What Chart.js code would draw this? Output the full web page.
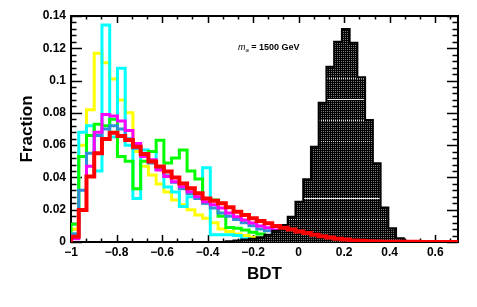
<!DOCTYPE html>
<html>
<head>
<meta charset="utf-8">
<script src="https://cdn.jsdelivr.net/npm/chart.js@4.4.1/dist/chart.umd.min.js"></script>
<style>
  html, body { margin: 0; padding: 0; background: #fff; }
</style>
</head>
<body>
<canvas id="c" width="477" height="307"></canvas>
<script>
// binning of all histograms
const binLow = -1;
const binHigh = 0.7;

const xTicks = [-1, -0.8, -0.6, -0.4, -0.2, 0, 0.2, 0.4, 0.6];
const yTicks = [0, 0.02, 0.04, 0.06, 0.08, 0.1, 0.12, 0.14];

// bin contents (50 bins each)
const yellowVals = [0.008, 0.060, 0.082, 0.117, 0.111, 0.101, 0.088, 0.080, 0.056, 0.047,
  0.0415, 0.036, 0.031, 0.026, 0.023, 0.020, 0.0167, 0.0147, 0.012, 0.008,
  0.0065, 0.005, 0.004, 0.003, 0.002, 0.0015, 0.001, 0.0007, 0.0005, 0.0003,
  0, 0, 0, 0, 0, 0, 0, 0, 0, 0, 0, 0, 0, 0, 0, 0, 0, 0, 0, 0];
const cyanVals = [0.005, 0.068, 0.072, 0.044, 0.1345, 0.065, 0.1076, 0.060, 0.027, 0.057,
  0.056, 0.045, 0.034, 0.031, 0.022, 0.028, 0.030, 0.046, 0.0045, 0.0045,
  0.0045, 0.004, 0.002, 0.001, 0.0005, 0, 0, 0, 0, 0,
  0, 0, 0, 0, 0, 0, 0, 0, 0, 0, 0, 0, 0, 0, 0, 0, 0, 0, 0, 0];
const greenVals = [0.011, 0.053, 0.066, 0.073, 0.072, 0.076, 0.053, 0.050, 0.033, 0.050,
  0.056, 0.063, 0.049, 0.052, 0.057, 0.044, 0.039, 0.024, 0.026, 0.016,
  0.009, 0.0085, 0.0075, 0.006, 0.005, 0.004, 0.003, 0.002, 0.001, 0.001,
  0.0005, 0, 0, 0, 0, 0, 0, 0, 0, 0, 0, 0, 0, 0, 0, 0, 0, 0, 0, 0];
const blueVals = [0.005, 0.032, 0.055, 0.066, 0.070, 0.072, 0.070, 0.064, 0.058, 0.053,
  0.049, 0.045, 0.041, 0.037, 0.033, 0.030, 0.027, 0.024, 0.021, 0.018,
  0.016, 0.014, 0.012, 0.010, 0.008, 0.007, 0.006, 0.005, 0.004, 0.003,
  0.002, 0.0015, 0.001, 0.0005, 0, 0, 0, 0, 0, 0, 0, 0, 0, 0, 0, 0, 0, 0, 0, 0];
const magentaVals = [0.002, 0.020, 0.047, 0.068, 0.079, 0.078, 0.075, 0.069, 0.061, 0.053,
  0.051, 0.0446, 0.0405, 0.0374, 0.0343, 0.0312, 0.028, 0.025, 0.023, 0.021,
  0.018, 0.0157, 0.0136, 0.0118, 0.0099, 0.0088, 0.0074, 0.006, 0.005, 0.004,
  0.003, 0.0022, 0.0015, 0.001, 0.0007, 0.0004, 0, 0, 0, 0, 0, 0, 0, 0, 0, 0, 0, 0, 0, 0];
const redVals = [0.0033, 0.0198, 0.0405, 0.055, 0.0638, 0.0677, 0.0657, 0.0632, 0.059, 0.0545,
  0.0498, 0.0467, 0.0436, 0.040, 0.0363, 0.0333, 0.0302, 0.027, 0.0256, 0.024,
  0.0215, 0.0188, 0.0167, 0.0147, 0.013, 0.0116, 0.0099, 0.0088, 0.0078, 0.0065,
  0.0055, 0.0045, 0.0036, 0.0028, 0.002, 0.0015, 0.001, 0.0007, 0.0005, 0.0003,
  0.0002, 0.0002, 0.0001, 0.0001, 0.0001, 0, 0, 0, 0, 0];
const signalVals = [0, 0, 0, 0, 0, 0, 0, 0, 0, 0,
  0, 0, 0, 0, 0, 0, 0, 0, 0, 0,
  0.0005, 0.001, 0.0015, 0.002, 0.003, 0.0045, 0.007, 0.0105, 0.0157, 0.025,
  0.0388, 0.059, 0.0863, 0.1086, 0.124, 0.132, 0.1235, 0.102, 0.0756, 0.0488,
  0.0213, 0.0085, 0.0023, 0.0005, 0.0003, 0, 0, 0, 0, 0];

function stepPoints(vals) {
  const w = (binHigh - binLow) / vals.length;
  const pts = [{x: binLow, y: 0}];
  vals.forEach((v, i) => pts.push({x: binLow + i * w, y: v}));
  pts.push({x: binHigh, y: 0});
  return pts;
}

// dotted fill like the ROOT pattern, with its lighter rows
function makePattern() {
  const t = document.createElement('canvas');
  t.width = 2; t.height = 307;
  const g = t.getContext('2d');
  g.fillStyle = '#000';
  g.fillRect(0, 0, 2, 307);
  for (let r = 1; r < 307; r += 2) {
    g.fillStyle = '#7a7a7a';
    g.fillRect(1, r, 1, 1);
  }
  g.fillStyle = '#f0f0f0';
  [99, 198].forEach(r => g.fillRect(0, r, 2, 1));
  g.fillStyle = '#d8d8d8';
  [78, 120, 141, 219].forEach(r => g.fillRect(1, r, 1, 1));
  return g.createPattern(t, 'repeat');
}

function histo(vals, color, width, extra) {
  return Object.assign({
    data: stepPoints(vals),
    borderColor: color,
    borderWidth: width,
    stepped: true,
    fill: false,
    pointRadius: 0,
    borderJoinStyle: 'miter',
    borderCapStyle: 'butt'
  }, extra || {});
}

const fmt = (v) => (v < 0 ? '\u2212' : '') + String(Math.abs(Math.round(v * 100) / 100));

// ROOT style frame with inward ticks
const framePlugin = {
  id: 'frame',
  beforeDatasetsDraw(chart) {
    const {ctx, chartArea: a, scales: {x, y}} = chart;
    ctx.save();
    ctx.strokeStyle = '#000';
    ctx.lineWidth = 2;
    ctx.strokeRect(a.left, a.top, a.right - a.left, a.bottom - a.top);
    ctx.lineWidth = 1.5;
    ctx.beginPath();
    for (let i = 0; i < xTicks.length; i++) {
      for (let j = 0; j < 3; j++) {
        const v = xTicks[i] + j * 0.2 / 3;
        if (v > binHigh + 1e-9) continue;
        const px = Math.round(x.getPixelForValue(v)) + 0.5;
        const len = j === 0 ? 7 : 3.5;
        ctx.moveTo(px, a.bottom); ctx.lineTo(px, a.bottom - len);
        ctx.moveTo(px, a.top); ctx.lineTo(px, a.top + len);
      }
    }
    for (let i = 0; i < yTicks.length; i++) {
      for (let j = 0; j < 5; j++) {
        const v = yTicks[i] + j * 0.004;
        if (v > 0.14 + 1e-9) continue;
        const py = Math.round(y.getPixelForValue(v)) + 0.5;
        const len = j === 0 ? 11 : 5.5;
        ctx.moveTo(a.left, py); ctx.lineTo(a.left + len, py);
        ctx.moveTo(a.right, py); ctx.lineTo(a.right - len, py);
      }
    }
    ctx.stroke();
    ctx.restore();
  },
  afterDraw(chart) {
    const {ctx} = chart;
    ctx.save();
    ctx.fillStyle = '#000';
    ctx.textBaseline = 'alphabetic';
    ctx.font = 'italic 9px "Liberation Sans"';
    ctx.fillText('m', 238, 49.5);
    let xx = 238 + ctx.measureText('m').width;
    ctx.font = 'italic 6px "Liberation Sans"';
    ctx.fillText('a', xx, 51.5);
    xx += ctx.measureText('a').width;
    ctx.font = 'bold 9px "Liberation Sans"';
    ctx.fillText(' = 1500 GeV', xx, 49.5);
    ctx.restore();
  }
};

// Chart.js draws the first dataset on top, so list top-most first
new Chart(document.getElementById('c'), {
  type: 'line',
  data: {
    datasets: [
      histo(redVals, '#ff0000', 4),
      histo(signalVals, '#000000', 2, {fill: 'origin', backgroundColor: makePattern()}),
      histo(magentaVals, '#ff00ff', 3),
      histo(blueVals, '#2f8fd8', 3),
      histo(greenVals, '#00ff00', 3),
      histo(cyanVals, '#00ffff', 3),
      histo(yellowVals, '#ffff00', 3)
    ]
  },
  options: {
    responsive: false,
    animation: false,
    devicePixelRatio: 1,
    layout: {padding: {top: 16, right: 19, left: 0, bottom: 0}},
    plugins: {legend: {display: false}, tooltip: {enabled: false}},
    scales: {
      x: {
        type: 'linear',
        min: binLow,
        max: binHigh,
        afterBuildTicks: (s) => { s.ticks = xTicks.map(v => ({value: v})); },
        afterFit: (s) => { s.height = 65; },
        grid: {display: false, drawTicks: false},
        border: {display: false},
        ticks: {
          padding: 3,
          color: '#000',
          font: {family: 'Liberation Sans', size: 12, weight: 'bold'},
          maxRotation: 0,
          callback: (v) => fmt(v)
        },
        title: {
          display: true,
          text: 'BDT',
          color: '#000',
          font: {family: 'Liberation Sans', size: 17, weight: 'bold'},
          padding: {top: 0, bottom: 22}
        }
      },
      y: {
        min: 0,
        max: 0.14,
        afterBuildTicks: (s) => { s.ticks = yTicks.map(v => ({value: v})); },
        afterFit: (s) => { s.width = 71; },
        grid: {display: false, drawTicks: false},
        border: {display: false},
        ticks: {
          padding: 5,
          color: '#000',
          font: {family: 'Liberation Sans', size: 12, weight: 'bold'},
          callback: (v) => fmt(v)
        },
        title: {
          display: true,
          text: 'Fraction',
          color: '#000',
          font: {family: 'Liberation Sans', size: 17, weight: 'bold'},
          padding: {top: 17, bottom: 0}
        }
      }
    }
  },
  plugins: [framePlugin]
});
</script>
</body>
</html>
